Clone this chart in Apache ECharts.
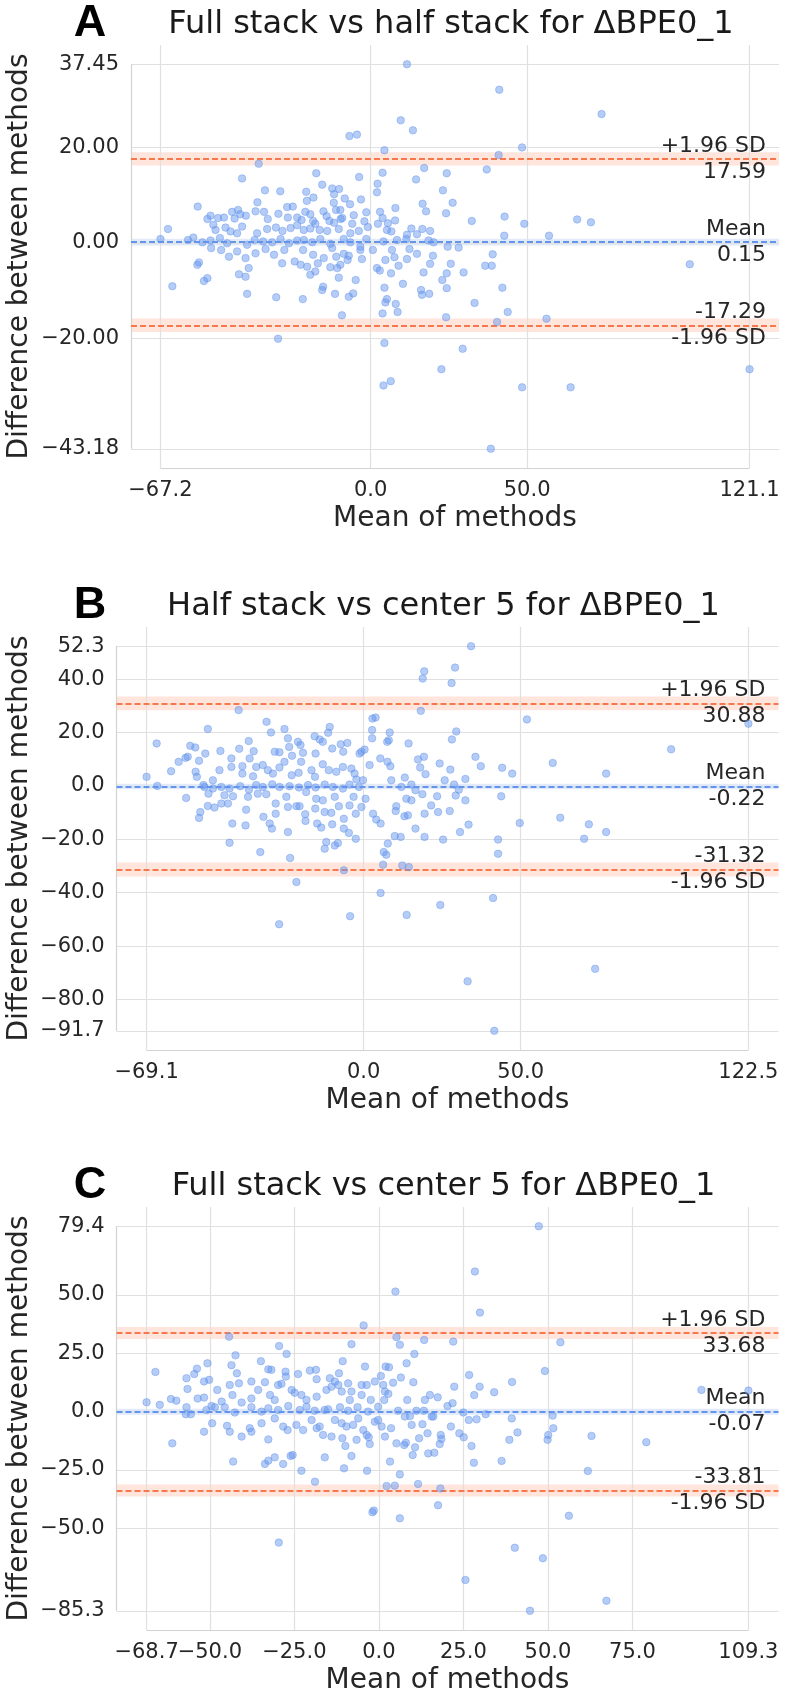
<!DOCTYPE html>
<html>
<head>
<meta charset="utf-8">
<title>Bland-Altman plots for ΔBPE0_1</title>
<script src="https://cdn.jsdelivr.net/npm/echarts@6/dist/echarts.min.js"></script>
<style>
  html, body { margin: 0; padding: 0; background: #fff; }
  #chart { width: 786px; height: 1698px; }
</style>
</head>
<body>
<div id="chart"></div>
<script>
// [mean of methods, difference between methods]
const pointsA = [
  [4.4,19.4],[40.9,18.4],[48.4,20.0],[-35.8,16.6],[-17.4,14.6],[3.8,14.7],[17.1,15.7],[37.1,15.4],[-41.1,13.5],[-3.7,13.8],
  [14.5,13.3],[24.3,14.6],[2.2,12.4],[-15.5,12.2],[-12.3,11.4],[-10.1,11.3],[2.0,10.6],[-33.8,11.0],[-28.9,10.8],[-20.6,10.7],
  [-18.3,9.5],[-11.7,10.2],[23.1,11.0],[-20.4,8.8],[-8.3,9.3],[-11.8,8.4],[-6.6,8.1],[-3.1,9.1],[-36.2,8.5],[-55.3,7.6],
  [-26.7,7.5],[-24.9,7.6],[-11.1,6.9],[-9.7,6.9],[7.9,7.3],[16.6,8.2],[26.2,8.4],[17.7,6.6],[24.1,6.2],[3.0,6.5],
  [-1.4,6.4],[-42.4,6.9],[-44.3,6.5],[-36.8,6.6],[-34.1,6.5],[-29.5,6.1],[-20.9,6.5],[-19.3,6.0],[-15.1,6.6],[-14.1,5.6],
  [-5.4,5.8],[-9.6,5.0],[-9.1,5.2],[42.8,5.5],[49.1,4.0],[32.3,4.6],[-51.2,5.7],[-52.2,5.0],[-48.8,5.2],[-46.9,5.3],
  [-43.5,5.1],[-41.7,6.0],[-39.9,5.7],[-32.9,5.0],[-26.5,5.3],[-23.5,5.3],[-22.1,4.8],[-18.4,4.6],[-17.7,4.0],[-13.2,4.6],
  [-11.7,4.2],[-5.9,4.0],[-2.0,4.5],[2.3,4.0],[3.8,5.2],[5.5,4.1],[7.8,4.7],[-64.8,2.9],[-50.3,3.8],[-49.6,2.7],
  [-46.4,3.2],[-44.8,2.4],[-42.7,2.0],[-41.1,3.4],[-36.3,2.0],[-33.1,2.9],[-30.3,3.2],[-28.2,2.5],[-25.6,3.1],[-23.5,3.7],
  [-21.4,2.7],[-19.3,3.0],[-16.3,2.7],[-13.9,2.5],[-10.2,2.9],[-6.5,2.0],[-3.8,2.5],[-0.9,3.3],[5.2,2.7],[6.6,2.4],
  [11.6,1.7],[13.0,3.0],[14.8,1.8],[16.5,2.9],[19.0,2.5],[42.7,1.5],[-56.7,1.1],[-58.4,0.6],[-53.8,0.1],[-67.2,0.8],
  [-51.2,0.5],[-48.2,1.0],[-45.9,-0.1],[-39.5,-0.4],[-37.1,0.6],[-34.4,0.3],[-31.5,0.1],[-28.8,0.8],[-26.1,-0.1],[-23.5,0.5],
  [-21.4,0.6],[-18.7,0.1],[-16.1,0.8],[-12.9,-0.2],[-8.6,0.8],[-6.5,0.1],[-3.3,-0.8],[-1.4,0.8],[0.7,-1.5],[4.1,0.3],
  [8.4,0.6],[11.4,0.8],[18.5,0.5],[20.1,0.1],[24.6,-0.8],[28.1,-1.0],[12.4,-1.3],[-51.0,-1.1],[-47.8,-1.5],[-45.3,-2.9],
  [-42.7,-1.8],[-40.0,-3.2],[-36.8,-2.2],[-33.6,-1.3],[-30.9,-2.5],[-27.6,-1.5],[-24.3,-3.9],[-21.6,-1.5],[-18.4,-2.5],[-16.9,-4.3],
  [-15.0,-3.2],[-12.3,-1.1],[-11.0,-2.9],[-8.6,-2.3],[-7.0,-2.7],[-3.3,-1.5],[-2.8,-3.4],[-7.4,-3.6],[6.8,-1.5],[7.6,-3.0],
  [14.8,-2.3],[19.9,-2.7],[39.0,-2.4],[-55.4,-4.6],[-54.9,-4.1],[-39.0,-5.3],[-42.1,-6.6],[-40.0,-7.1],[-28.3,-4.3],[-22.4,-4.6],
  [-20.3,-5.0],[-19.3,-6.7],[-17.7,-6.0],[-12.9,-5.1],[-10.7,-5.3],[-9.7,-4.6],[2.0,-5.3],[2.9,-5.8],[4.7,-3.6],[8.9,-4.8],
  [11.6,-3.4],[16.9,-6.2],[19.0,-4.4],[24.3,-6.4],[25.6,-4.4],[29.7,-6.2],[36.6,-4.8],[38.7,-4.8],[-53.3,-8.0],[-52.2,-7.4],
  [-63.4,-9.1],[-10.2,-7.3],[-4.8,-7.8],[6.5,-6.4],[10.3,-8.6],[22.9,-7.8],[24.3,-9.5],[42.1,-9.4],[-39.5,-10.7],[-30.2,-11.4],
  [-21.7,-11.8],[-15.5,-9.9],[-15.2,-9.2],[-11.4,-10.7],[-7.0,-11.3],[-5.6,-10.6],[4.4,-9.4],[5.2,-11.8],[4.7,-12.5],[8.0,-12.8],
  [16.1,-9.9],[16.4,-10.9],[18.7,-10.7],[33.2,-12.6],[-9.2,-15.2],[3.8,-14.8],[8.6,-14.5],[24.1,-15.6],[43.8,-14.5],[40.4,-16.6],
  [-29.6,-20.1],[4.4,-21.0],[29.4,-22.2],[11.6,37.45],[41.1,32.1],[9.6,25.7],[13.5,23.6],[-6.8,22.4],[-4.4,22.7],[73.8,27.0],
  [66.0,4.9],[70.4,4.3],[57.0,1.5],[102.0,-4.5],[56.2,-15.9],[22.6,-26.5],[121.1,-26.5],[4.1,-29.9],[6.4,-29.0],[48.4,-30.3],
  [63.9,-30.3],[38.4,-43.18]
];
const pointsB = [
  [-39.8,28.4],[18.2,28.1],[52.0,24.9],[2.8,25.2],[3.8,25.6],[-30.9,24.0],[-49.6,21.3],[-25.2,21.3],[-10.8,22.1],[-11.3,19.9],
  [-29.5,20.0],[2.7,20.9],[2.7,17.8],[8.3,20.0],[29.5,20.4],[28.1,17.4],[-65.9,15.9],[-36.6,16.8],[-24.1,17.8],[-20.9,16.5],
  [-20.1,15.3],[-15.6,18.6],[-14.0,17.4],[-13.0,16.5],[-7.3,15.6],[-5.2,16.1],[7.5,16.5],[8.0,17.1],[14.3,15.9],[-55.2,15.0],
  [-53.6,14.4],[-56.0,10.9],[-56.7,10.5],[-58.9,9.0],[-52.4,9.4],[-50.4,12.1],[-45.6,13.1],[-39.6,13.9],[-35.0,13.0],[-28.3,12.8],
  [-26.8,12.6],[-23.7,14.6],[-22.8,11.3],[-19.3,12.4],[-19.9,9.0],[-15.3,12.1],[-10.0,14.0],[-6.5,12.8],[-0.7,12.8],[-1.3,12.1],
  [0.3,13.6],[5.3,10.3],[7.6,9.0],[8.5,7.4],[17.3,9.9],[19.2,10.9],[18.0,6.9],[19.7,4.4],[24.2,8.4],[27.6,6.1],
  [35.6,10.9],[37.3,7.4],[44.1,6.8],[47.3,4.6],[32.4,2.6],[25.8,2.1],[28.8,0.5],[30.3,-1.4],[-61.3,5.5],[-69.1,3.4],
  [-65.7,0.0],[-53.5,5.3],[-53.1,3.4],[-51.0,0.3],[-48.0,2.1],[-45.9,5.9],[-42.1,7.1],[-42.1,10.3],[-38.6,7.4],[-36.3,10.3],
  [-34.2,7.1],[-38.6,4.6],[-35.2,3.6],[-32.1,7.8],[-30.5,5.9],[-28.9,4.6],[-26.8,6.9],[-25.2,9.0],[-22.9,4.0],[-20.7,4.9],
  [-16.6,5.9],[-15.5,3.4],[-13.0,8.1],[-11.1,5.9],[-8.7,5.3],[-6.6,7.1],[-3.9,6.5],[-2.9,4.6],[-2.3,2.4],[-0.2,2.1],
  [1.9,7.8],[8.8,2.1],[13.1,3.1],[12.0,-0.4],[15.2,0.5],[16.5,-1.6],[-50.7,-0.4],[-48.0,-1.0],[-45.3,-0.4],[-42.7,-1.0],
  [-39.3,-0.1],[-36.5,-1.4],[-34.2,0.3],[-32.1,-0.4],[-29.1,0.6],[-26.8,-0.4],[-23.6,-0.1],[-20.6,-0.6],[-17.7,0.3],[-15.3,-0.6],
  [-12.4,0.5],[-9.8,-0.4],[-6.6,-1.0],[-4.5,0.5],[-1.5,-0.4],[-56.5,-4.5],[-49.4,-2.9],[-44.3,-3.5],[-41.6,-3.9],[-36.8,-4.1],
  [-33.7,-2.9],[-31.0,-3.1],[-28.0,-6.6],[-24.6,-4.1],[-18.3,-2.3],[-15.1,-4.8],[-13.0,-5.4],[-9.2,-4.1],[-3.2,-4.1],[0.6,-4.8],
  [13.6,-4.8],[15.2,-5.4],[18.7,-3.1],[23.4,-3.9],[29.3,-3.6],[32.4,-5.4],[43.8,-3.9],[-49.6,-7.5],[-47.5,-8.1],[-45.3,-6.6],
  [-43.2,-6.6],[-37.4,-8.9],[-31.9,-11.6],[-28.0,-10.4],[-24.1,-7.9],[-21.4,-7.6],[-20.4,-7.6],[-18.6,-10.6],[-15.4,-8.5],[-12.4,-9.8],
  [-10.3,-10.1],[-7.9,-7.6],[-6.3,-12.3],[-4.5,-7.3],[-2.5,-10.4],[-0.7,-7.9],[3.0,-10.4],[4.0,-12.6],[5.4,-14.1],[10.4,-7.6],
  [10.2,-9.4],[13.0,-11.4],[14.1,-11.0],[19.4,-10.4],[21.5,-7.3],[23.7,-9.8],[27.4,-9.4],[-52.4,-12.0],[-52.0,-9.8],[-41.8,-14.1],
  [-37.6,-14.8],[-29.9,-14.1],[-29.2,-16.0],[-24.1,-17.3],[-18.5,-13.1],[-14.8,-14.1],[-13.5,-15.6],[-10.0,-14.4],[-6.3,-16.0],[-4.7,-17.6],
  [-2.5,-19.8],[16.5,-16.0],[33.4,-14.5],[49.7,-13.9],[30.7,-17.3],[-42.7,-21.3],[-32.9,-24.8],[-23.4,-27.0],[-12.4,-23.5],[-11.9,-21.0],
  [-9.2,-22.3],[-8.2,-21.4],[7.7,-21.6],[6.4,-24.8],[7.2,-25.8],[9.9,-18.8],[11.8,-19.1],[19.4,-19.1],[25.3,-20.1],[42.8,-20.1],
  [42.8,-25.4],[6.2,-29.5],[12.3,-29.8],[14.4,-30.4],[-6.3,-31.6],[-21.4,-36.0],[5.4,-40.1],[41.2,-42.0],[34.2,52.3],[19.3,42.9],
  [18.8,40.2],[29.1,44.3],[28.0,38.5],[97.9,13.7],[122.5,23.3],[60.2,8.6],[77.2,4.6],[62.6,-11.9],[71.7,-14.4],[70.2,-19.8],
  [77.2,-17.3],[73.7,-68.5],[33.1,-73.2],[41.6,-91.7],[24.4,-44.6],[13.7,-48.3],[-4.3,-48.8],[-26.9,-51.8]
];
const pointsC = [
  [-4.5,36.9],[-44.3,32.1],[5.2,31.9],[6.2,28.6],[13.4,30.7],[22.0,30.0],[-8.1,28.9],[-29.5,28.1],[-27.3,24.7],[-42.4,24.1],
  [10.5,24.7],[-43.6,19.9],[-50.7,20.7],[-34.9,21.6],[-10.7,21.6],[8.2,20.7],[-4.1,19.3],[2.0,19.3],[3.0,19.0],[-53.8,18.4],
  [-66.1,17.0],[-32.7,18.1],[-31.8,17.9],[-27.6,17.1],[-42.0,16.4],[-23.9,16.1],[-20.4,17.6],[-18.6,17.9],[-11.8,16.4],[0.6,15.3],
  [6.5,14.6],[26.7,15.7],[49.1,17.4],[-54.6,16.1],[-56.9,14.3],[-51.7,12.9],[-50.2,13.6],[-44.1,11.4],[-41.4,12.1],[-37.7,12.9],
  [-33.7,12.6],[-29.8,11.4],[-28.8,11.9],[-27.5,15.0],[-18.4,13.9],[-14.5,14.3],[-13.0,12.9],[-12.0,11.4],[-9.1,12.1],[-5.1,11.4],
  [-3.6,11.4],[-1.2,12.9],[1.3,11.4],[4.2,12.4],[10.2,12.6],[22.3,10.7],[29.8,10.7],[39.4,12.7],[34.1,8.3],[28.2,7.1],
  [-56.6,9.7],[-53.6,5.6],[-51.7,6.0],[-47.8,9.3],[-43.3,7.1],[-37.7,5.6],[-35.7,9.3],[-32.2,7.1],[-30.8,5.0],[-25.8,9.3],
  [-24.9,8.1],[-22.9,7.1],[-21.4,5.0],[-18.4,6.4],[-15.5,9.3],[-14.0,10.7],[-11.0,8.6],[-8.1,8.6],[-8.6,5.0],[-5.1,7.1],
  [-2.4,5.0],[1.8,8.6],[2.8,7.6],[1.6,5.0],[8.4,5.0],[13.6,5.0],[15.1,7.1],[17.4,6.1],[20.3,2.4],[21.8,3.6],
  [-68.7,4.0],[-64.8,2.9],[-61.5,5.4],[-59.9,4.7],[-56.9,1.9],[-57.1,-1.1],[-55.6,-1.1],[-51.0,0.7],[-49.5,2.4],[-48.5,1.9],
  [-46.5,4.3],[-45.6,1.9],[-42.6,-0.4],[-40.6,3.9],[-37.7,1.9],[-34.7,0.0],[-32.7,1.4],[-29.8,0.7],[-26.8,2.4],[-23.4,0.7],
  [-21.4,2.1],[-19.0,0.4],[-16.0,0.7],[-15.0,1.0],[-11.5,1.9],[-9.1,0.4],[-6.3,1.9],[-3.2,0.0],[-0.2,2.1],[5.7,0.4],
  [9.2,-1.9],[11.1,0.4],[13.3,0.4],[16.1,-2.1],[25.0,-0.4],[26.6,-3.6],[28.9,-3.3],[31.6,-1.1],[39.3,-2.9],[51.4,-1.7],
  [-49.3,-5.0],[-44.9,-6.1],[-44.1,-8.6],[-51.7,-8.6],[-40.6,-10.7],[-38.2,-7.1],[-37.7,-8.6],[-34.7,-5.0],[-32.7,-11.9],[-30.8,-2.9],
  [-28.3,-6.4],[-27.0,-7.9],[-24.4,-5.7],[-22.4,-7.9],[-19.9,-3.6],[-18.4,-7.1],[-17.5,-6.4],[-16.5,-10.0],[-14.0,-10.7],[-13.0,-3.6],
  [-11.0,-5.0],[-10.8,-11.4],[-9.6,-6.4],[-7.6,-5.7],[-9.9,-14.7],[-6.1,-2.9],[-6.6,-12.1],[-4.6,-7.9],[-3.6,-10.0],[-3.0,-11.0],
  [-2.7,-13.9],[-1.2,-4.3],[-0.2,-3.6],[0.8,-6.4],[1.8,-10.7],[3.6,-7.1],[5.2,-13.6],[7.5,-14.3],[8.0,-13.3],[7.7,-2.1],
  [9.7,-5.7],[10.7,-15.3],[10.0,-18.6],[11.9,-11.4],[12.9,-5.4],[14.4,-9.3],[15.6,-2.1],[18.3,-10.0],[18.5,-11.7],[18.0,-13.9],
  [14.6,-17.9],[16.4,-17.6],[21.3,-6.4],[23.8,-9.3],[25.1,-11.0],[27.4,-14.7],[28.1,-21.9],[36.3,-21.1],[38.6,-12.1],[41.0,-8.9],
  [50.1,-10.0],[49.9,-12.1],[51.6,-7.1],[-61.1,-13.6],[-43.1,-21.4],[-33.7,-22.4],[-32.7,-21.0],[-30.8,-19.6],[-28.3,-22.4],[-26.1,-19.0],
  [-25.5,-18.6],[-22.9,-25.3],[-16.0,-19.6],[-10.3,-24.3],[-8.1,-19.0],[-3.5,-25.3],[3.3,-21.4],[6.2,-26.9],[-18.9,-30.0],[2.3,-31.9],
  [4.7,-31.7],[11.6,-31.0],[18.2,-32.9],[17.5,-40.1],[-1.5,-42.4],[47.3,79.4],[28.4,60.0],[4.9,51.4],[29.9,42.4],[53.7,29.7],
  [95.4,9.3],[79.1,-13.1],[62.9,-10.4],[61.8,-25.4],[56.2,-44.6],[40.2,-58.3],[48.5,-62.8],[25.6,-72.1],[67.3,-81.0],[44.7,-85.3],
  [-29.6,-56.1],[-1.9,-43.1],[6.2,-45.7],[109.3,9.0]
];

// mean difference and limits of agreement (+1.96 SD, -1.96 SD)
const statsA = [0.15, 17.59, -17.29];
const statsB = [-0.22, 30.88, -31.32];
const statsC = [-0.07, 33.68, -33.81];
// half widths of the shaded confidence bands: [mean, limits]
const ciA = [0.7, 1.4];
const ciB = [1.0, 2.6];
const ciC = [1.3, 2.6];

// tick values shown on each axis
const xTicksA = [-67.2, 0, 50, 121.1];
const yTicksA = [37.45, 20, 0, -20, -43.18];
const xTicksB = [-69.1, 0, 50, 122.5];
const yTicksB = [52.3, 40, 20, 0, -20, -40, -60, -80, -91.7];
const xTicksC = [-68.7, -50, -25, 0, 25, 50, 75, 109.3];
const yTicksC = [79.4, 50, 25, 0, -25, -50, -85.3];

const titles = [
  'Full stack vs half stack for ΔBPE0_1',
  'Half stack vs center 5 for ΔBPE0_1',
  'Full stack vs center 5 for ΔBPE0_1'
];
const letters = ['A', 'B', 'C'];

const FONT = '"DejaVu Sans", sans-serif';
const BLUE = '#6495ED';
const CORAL = '#f7794b';
const GRID = '#e0e0e0';
const TEXT = '#262626';

const panels = [
  { points: pointsA, stats: statsA, ci: ciA, xTicks: xTicksA, yTicks: yTicksA, yDec: 2,
    grid: { left: 131, top: 45, width: 648, height: 423 } },
  { points: pointsB, stats: statsB, ci: ciB, xTicks: xTicksB, yTicks: yTicksB, yDec: 1,
    grid: { left: 116.5, top: 627, width: 662, height: 423 } },
  { points: pointsC, stats: statsC, ci: ciC, xTicks: xTicksC, yTicks: yTicksC, yDec: 1,
    grid: { left: 116.5, top: 1207, width: 662, height: 423 } }
];

// axis range = tick extremes plus 5% margin each side
function padded(ticks) {
  const lo = Math.min(...ticks), hi = Math.max(...ticks), m = (hi - lo) * 0.05;
  return [lo - m, hi + m];
}
function tickText(dec) {
  return v => (v < 0 ? '\u2212' : '') + Math.abs(v).toFixed(dec);
}

const option = {
  animation: false,
  backgroundColor: '#fff',
  grid: [], xAxis: [], yAxis: [], series: [], graphic: []
};

const axisCommon = {
  type: 'value',
  axisLine: { show: false }, axisTick: { show: false }, splitLine: { show: false }
};
const labelCommon = { fontFamily: FONT, fontSize: 21, color: TEXT, margin: 12, hideOverlap: false };

panels.forEach((p, i) => {
  const xr = padded(p.xTicks), yr = padded(p.yTicks);
  const [mean, upper, lower] = p.stats;
  const g = p.grid;
  option.grid.push(Object.assign({ containLabel: false }, g));

  // the first x tick gets its own axis so a touching neighbour can't hide it
  option.xAxis.push(Object.assign({ gridIndex: i, position: 'bottom', offset: 0, min: xr[0], max: xr[1] }, axisCommon, {
    axisLabel: Object.assign({ customValues: p.xTicks.slice(1), formatter: tickText(1) }, labelCommon)
  }));
  option.yAxis.push(Object.assign({ gridIndex: i, position: 'left', min: yr[0], max: yr[1] }, axisCommon, {
    axisLabel: Object.assign({ customValues: p.yTicks, formatter: tickText(p.yDec) }, labelCommon)
  }));
  const xi = option.xAxis.length - 1, yi = option.yAxis.length - 1;
  option.xAxis.push(Object.assign({ gridIndex: i, position: 'bottom', offset: 0, min: xr[0], max: xr[1] }, axisCommon, {
    axisLabel: Object.assign({ customValues: [p.xTicks[0]], formatter: tickText(1) }, labelCommon)
  }));

  const spine = { color: '#d2d2d2', width: 1.2, type: 'solid' };
  // grid lines and trimmed spines
  option.series.push({
    type: 'scatter', xAxisIndex: xi, yAxisIndex: yi, data: [], silent: true, z: 1,
    markLine: {
      silent: true, symbol: 'none', animation: false, label: { show: false },
      lineStyle: { color: GRID, width: 1.2, type: 'solid' },
      data: [
        ...p.yTicks.map(v => ({ yAxis: v })),
        ...p.xTicks.map(v => ({ xAxis: v })),
        [{ coord: [xr[0], p.yTicks[0]], lineStyle: spine }, { coord: [xr[0], p.yTicks[p.yTicks.length - 1]], lineStyle: spine }],
        [{ coord: [p.xTicks[0], yr[0]], lineStyle: spine }, { coord: [p.xTicks[p.xTicks.length - 1], yr[0]], lineStyle: spine }]
      ]
    }
  });

  // confidence bands
  const orangeBand = { color: 'rgba(255,127,80,0.2)' };
  const blueBand = { color: 'rgba(100,149,237,0.2)' };
  option.series.push({
    type: 'scatter', xAxisIndex: xi, yAxisIndex: yi, data: [], silent: true, z: 2,
    markArea: {
      silent: true, animation: false,
      data: [
        [{ yAxis: upper - p.ci[1], itemStyle: orangeBand }, { yAxis: upper + p.ci[1] }],
        [{ yAxis: lower - p.ci[1], itemStyle: orangeBand }, { yAxis: lower + p.ci[1] }],
        [{ yAxis: mean - p.ci[0], itemStyle: blueBand }, { yAxis: mean + p.ci[0] }]
      ]
    }
  });

  // mean and limits of agreement, with their labels
  const lbl = (text, pos) => ({ position: pos, formatter: text });
  const hidden = { color: 'rgba(0,0,0,0)', width: 0 };
  option.series.push({
    type: 'scatter', xAxisIndex: xi, yAxisIndex: yi, data: [], silent: true, z: 3,
    markLine: {
      silent: true, symbol: 'none', animation: false,
      lineStyle: { type: [6, 3], width: 1.8 },
      label: { fontFamily: FONT, fontSize: 22, color: TEXT, distance: [13, 2] },
      data: [
        { yAxis: upper, lineStyle: { color: CORAL }, label: lbl('+1.96 SD', 'insideEndTop') },
        { yAxis: upper, lineStyle: hidden, label: lbl(upper.toFixed(2), 'insideEndBottom') },
        { yAxis: mean, lineStyle: { color: BLUE }, label: lbl('Mean', 'insideEndTop') },
        { yAxis: mean, lineStyle: hidden, label: lbl(mean.toFixed(2), 'insideEndBottom') },
        { yAxis: lower, lineStyle: { color: CORAL }, label: lbl(lower.toFixed(2), 'insideEndTop') },
        { yAxis: lower, lineStyle: hidden, label: lbl('-1.96 SD', 'insideEndBottom') }
      ]
    }
  });

  option.series.push({
    type: 'scatter', xAxisIndex: xi, yAxisIndex: yi, z: 5,
    data: p.points, symbolSize: 7.5,
    itemStyle: { color: 'rgba(100,149,237,0.6)', borderColor: 'rgba(100,149,237,0.7)', borderWidth: 0.8 }
  });

  // panel letter, title and axis names
  const cx = g.left + g.width / 2, cy = g.top + g.height / 2;
  option.graphic.push(
    { type: 'text', x: 90, y: g.top - 21, style: { text: letters[i], font: 'bold 45px "Liberation Sans", sans-serif',
      fill: '#000', align: 'center', verticalAlign: 'middle' } },
    { type: 'text', x: cx - 4, y: g.top - 20, style: { text: titles[i], font: '32px ' + FONT,
      fill: '#1a1a1a', align: 'center', verticalAlign: 'middle' } },
    { type: 'text', x: 20, y: cy, rotation: Math.PI / 2, style: { text: 'Difference between methods',
      font: '28px ' + FONT, fill: TEXT, align: 'center', verticalAlign: 'middle' } },
    { type: 'text', x: cx, y: g.top + g.height + 51, style: { text: 'Mean of methods',
      font: '28px ' + FONT, fill: TEXT, align: 'center', verticalAlign: 'middle' } }
  );
});

const chart = echarts.init(document.getElementById('chart'), null, { renderer: 'canvas' });
chart.setOption(option);
</script>
</body>
</html>
